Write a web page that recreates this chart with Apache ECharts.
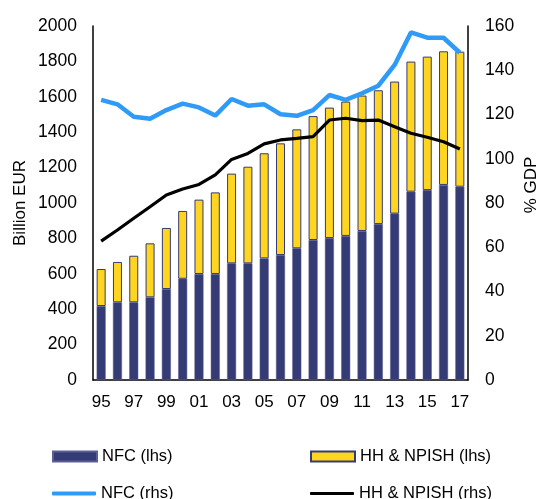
<!DOCTYPE html>
<html>
<head>
<meta charset="utf-8">
<script src="https://cdn.jsdelivr.net/npm/echarts@6/dist/echarts.min.js"></script>
<style>
  html, body { margin: 0; padding: 0; background: #fff; }
  #chart { width: 540px; height: 499px; }
</style>
</head>
<body>
<div id="chart"></div>
<script>
// years 1995-2017, labels shown as two digits
var years = ['95','96','97','98','99','00','01','02','03','04','05','06','07','08','09','10','11','12','13','14','15','16','17'];
// billion EUR (lhs)
var nfcDebt = [418, 439, 439, 467, 514, 572, 599, 599, 659, 659, 687, 706, 744, 791, 802, 814, 842, 881, 940, 1064, 1073, 1102, 1092];
var hhDebt  = [209, 228, 263, 305, 345, 383, 420, 461, 507, 546, 594, 631, 672, 700, 737, 759, 765, 756, 746, 735, 754, 755, 763];
// % of GDP (rhs)
var nfcGdp = [126.6, 124.6, 119.0, 118.1, 122.0, 124.9, 123.2, 119.5, 127.0, 124.0, 124.6, 120.1, 119.4, 122.0, 128.8, 126.6, 129.6, 133.0, 142.4, 157.1, 154.7, 154.7, 147.9];
var hhGdp  = [62.8, 67.8, 73.1, 78.3, 83.6, 86.3, 88.4, 92.7, 99.7, 102.4, 106.7, 108.5, 109.2, 110.0, 117.5, 118.3, 117.2, 117.5, 114.5, 111.5, 109.7, 107.7, 104.4];

var font = 'Liberation Sans, Arial, sans-serif';
var chart = echarts.init(document.getElementById('chart'));

function legendAt(name, left, top, icon, h) {
  return {
    data: [name],
    left: left,
    top: top,
    icon: icon,
    itemWidth: 44,
    itemHeight: h,
    textStyle: { fontFamily: font, fontSize: 16.5, color: '#000' }
  };
}

function plain(v) { return String(v); }

var option = {
  animation: false,
  textStyle: { fontFamily: font },
  legend: [
    legendAt('NFC (lhs)', 47, 443, 'rect', 10),
    legendAt('HH & NPISH (lhs)', 305, 443, 'rect', 10),
    legendAt('NFC (rhs)', 47, 480, 'roundRect', 4),
    legendAt('HH & NPISH (rhs)', 305, 480, 'roundRect', 3)
  ],
  graphic: [
    {
      type: 'text', x: 20, y: 203, rotation: Math.PI / 2,
      style: { text: 'Billion EUR', fill: '#000', font: '17px ' + font, align: 'center', verticalAlign: 'middle' }
    },
    {
      type: 'text', x: 531, y: 185, rotation: Math.PI / 2,
      style: { text: '% GDP', fill: '#000', font: '17px ' + font, align: 'center', verticalAlign: 'middle' }
    }
  ],
  grid: { left: 93, right: 72, top: 26, bottom: 119 },
  xAxis: {
    type: 'category',
    data: years,
    axisLine: { lineStyle: { color: '#000', width: 1.5 } },
    axisTick: { show: false },
    axisLabel: { interval: 1, color: '#000', fontSize: 17, fontFamily: font, margin: 14 }
  },
  yAxis: [
    {
      type: 'value',
      min: 0, max: 2000, interval: 200,
      axisLine: { show: true, lineStyle: { color: '#000', width: 1.5 } },
      axisTick: { show: false },
      splitLine: { show: false },
      axisLabel: { color: '#000', fontSize: 17.5, fontFamily: font, margin: 16, formatter: plain }
    },
    {
      type: 'value',
      min: 0, max: 160, interval: 20,
      axisLine: { show: true, lineStyle: { color: '#000', width: 1.5 } },
      axisTick: { show: false },
      splitLine: { show: false },
      axisLabel: { color: '#000', fontSize: 17.5, fontFamily: font, margin: 17, formatter: plain }
    }
  ],
  series: [
    {
      name: 'NFC (lhs)',
      type: 'bar',
      stack: 'debt',
      barWidth: 9,
      data: nfcDebt,
      itemStyle: { color: '#353B74', borderColor: '#5a5f95', borderWidth: 0.5 }
    },
    {
      name: 'HH & NPISH (lhs)',
      type: 'bar',
      stack: 'debt',
      barWidth: 9,
      data: hhDebt,
      itemStyle: { color: '#FFD520', borderColor: '#353B74', borderWidth: 1 }
    },
    {
      name: 'NFC (rhs)',
      type: 'line',
      yAxisIndex: 1,
      data: nfcGdp,
      symbol: 'none',
      itemStyle: { color: '#2F9BF7' },
      lineStyle: { color: '#2F9BF7', width: 4.5 }
    },
    {
      name: 'HH & NPISH (rhs)',
      type: 'line',
      yAxisIndex: 1,
      data: hhGdp,
      symbol: 'none',
      itemStyle: { color: '#000' },
      lineStyle: { color: '#000', width: 3.2 }
    }
  ]
};
chart.setOption(option);
</script>
</body>
</html>
